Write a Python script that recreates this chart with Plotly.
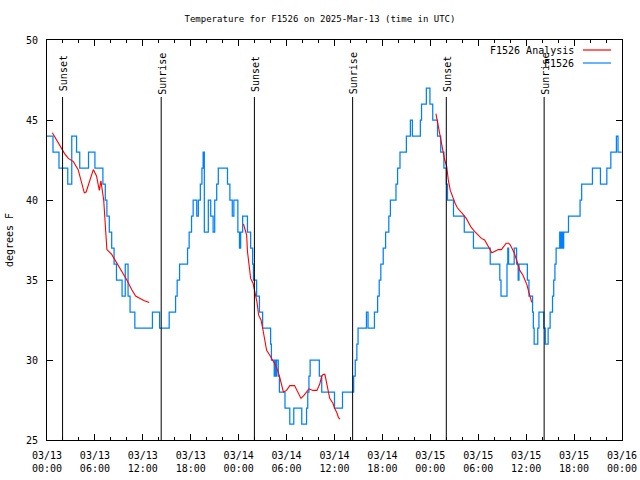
import plotly.graph_objects as go
import pandas as pd

START = pd.Timestamp("2025-03-13 00:00")

# Observations (F1526), hours since 03/13 00:00 UTC and temperature (F)
obs_hours = [0.0, 0.75, 1.5, 2.6, 3.1, 3.7, 4.1, 5.2, 6.0, 7.0, 7.3, 7.5, 7.8, 8.1, 8.4, 8.7,
             9.4, 9.8, 10.15, 10.4, 11.0, 13.2, 14.1, 15.3, 16.1, 16.3, 16.6, 17.6, 17.8, 18.1,
             18.3, 18.75, 18.95, 19.2, 19.4, 19.55, 19.7, 20.2, 20.5, 20.8, 21.0, 21.25, 21.45,
             22.6, 22.9, 23.2, 23.4, 23.9, 24.1, 24.25, 24.5, 25.1, 25.5, 25.75, 25.85, 26.25,
             26.6, 27.0, 28.0, 28.1, 28.45, 28.55, 28.7, 28.75, 28.96, 29.1, 29.8, 30.4, 30.9,
             31.9, 32.5, 32.65, 32.8, 32.95, 34.1, 34.4, 36.0, 37.0, 38.4, 38.6, 38.8, 38.95,
             39.3, 40.0, 40.2, 41.0, 41.4, 41.6, 41.8, 42.1, 42.4, 42.8, 43.0, 43.7, 43.9, 44.2,
             45.0, 45.5, 45.75, 46.75, 46.9, 47.5, 47.95, 48.3, 48.9, 49.3, 49.7, 50.0, 50.15,
             50.9, 52.25, 53.4, 55.5, 56.7, 56.85, 57.6, 57.7, 57.8, 58.5, 58.8, 59.0, 59.1,
             60.15, 60.35, 60.8, 60.9, 61.0, 61.45, 61.6, 62.2, 62.4, 62.75, 63.0, 63.3, 63.45,
             63.6, 63.75, 64.2, 64.3, 64.45, 64.6, 64.7, 65.3, 66.75, 66.95, 68.3, 69.3, 70.1,
             70.6, 71.3, 71.5, 71.95]
obs_temp = [44, 43, 42, 41, 44, 43, 42, 43, 42, 41, 40, 39, 38, 37, 36, 35,
            34, 36, 34, 33, 32, 33, 32, 33, 34, 35, 36, 37, 38, 39,
            40, 39, 40, 41, 42, 43, 38, 40, 39, 38, 40, 41, 42,
            41, 40, 39, 40, 38, 37, 38, 39, 38, 37, 36, 35, 34,
            33, 32, 31, 30, 29, 30, 29, 30, 29, 28, 27, 26, 27,
            26, 27, 28, 29, 30, 29, 28, 27, 28, 29, 30, 31, 32,
            32, 33, 32, 33, 34, 35, 36, 37, 38, 39, 40, 41, 42, 43,
            44, 45, 44, 45, 46, 47, 46, 45, 44, 43, 42, 41, 40,
            39, 38, 37, 36, 35, 34, 36, 37, 36, 37, 36, 35, 36,
            35, 34, 33, 32, 31, 32, 33, 32, 31, 32, 33, 34, 35,
            36, 37, 38, 37, 38, 37, 38, 39, 40, 41, 42, 41, 42,
            43, 44, 43, 43]

# Analysis (F1526 Analysis), three separate runs
ana1_hours = [0.67, 1.0, 1.6, 2.2, 2.67, 3.3, 3.9, 4.3, 4.67, 4.9, 5.3, 5.8, 6.2, 6.55, 6.75,
              6.9, 7.1, 7.26, 7.5, 8.1, 8.7, 9.35, 10.0, 10.6, 11.1, 11.65, 12.2, 12.8]
ana1_temp = [44.2, 43.9, 43.4, 42.9, 42.6, 42.4, 41.9, 41.1, 40.45, 40.5, 41.1, 41.9, 41.5, 40.6,
             41.2, 40.6, 40.0, 38.75, 36.9, 36.6, 36.1, 35.6, 35.0, 34.4, 34.0, 33.85, 33.7, 33.6]

ana2_hours = [24.6, 24.8, 25.0, 25.1, 25.3, 25.5, 25.8, 26.0, 26.3, 26.5, 26.8, 27.0, 27.15, 27.3,
              27.5, 27.9, 28.3, 28.7, 29.1, 29.4, 29.6, 30.0, 30.4, 31.0, 31.3, 31.5, 31.8, 32.2,
              32.6, 32.8, 33.3, 33.8, 34.15, 34.4, 34.6, 34.8, 35.0, 35.2, 35.4, 35.8, 36.0,
              36.3, 36.5, 36.7]
ana2_temp = [38.5, 38.2, 37.8, 36.8, 36.0, 35.1, 34.8, 34.3, 33.6, 32.8, 32.5, 32.0, 31.6, 31.0,
             30.6, 30.3, 29.9, 29.6, 29.0, 28.4, 28.0, 28.1, 28.4, 28.4, 28.1, 27.8, 27.6, 27.8,
             28.1, 28.2, 28.1, 28.1, 28.5, 29.0, 29.1, 29.1, 28.6, 28.1, 27.6, 27.3, 27.0,
             26.7, 26.4, 26.3]

ana3_hours = [48.7, 48.85, 49.0, 49.2, 49.4, 49.6, 49.8, 50.05, 50.25, 50.5, 50.7, 50.9, 51.1,
              51.4, 51.7, 52.1, 52.5, 52.9, 53.1, 53.6, 54.0, 54.4, 54.8, 55.1, 55.4, 55.7,
              56.1, 56.5, 56.9, 57.2, 57.5, 57.8, 58.0, 58.2, 58.5, 58.8, 59.0, 59.2, 59.6,
              59.9, 60.1, 60.3, 60.5, 60.7]
ana3_temp = [45.4, 45.0, 44.6, 44.2, 43.6, 43.1, 42.5, 42.1, 41.25, 40.6, 40.3, 40.1, 39.8,
             39.5, 39.3, 39.1, 38.85, 38.5, 38.3, 38.0, 37.8, 37.6, 37.5, 37.2, 36.9, 36.7,
             36.8, 36.9, 36.9, 37.1, 37.3, 37.3, 37.2, 37.0, 36.7, 36.25, 35.9, 35.6, 35.3,
             35.0, 34.7, 34.3, 34.0, 33.6]

# Sun events
sun_labels = ["Sunset", "Sunrise", "Sunset", "Sunrise", "Sunset", "Sunrise"]
sun_hours = [1.95, 14.3, 25.97, 38.27, 50.0, 62.25]

# X tick labels every 6 hours
tick_hours = [0, 6, 12, 18, 24, 30, 36, 42, 48, 54, 60, 66, 72]
tick_labels = ["03/13<br>00:00", "03/13<br>06:00", "03/13<br>12:00", "03/13<br>18:00",
               "03/14<br>00:00", "03/14<br>06:00", "03/14<br>12:00", "03/14<br>18:00",
               "03/15<br>00:00", "03/15<br>06:00", "03/15<br>12:00", "03/15<br>18:00",
               "03/16<br>00:00"]


def to_time(hours):
    return [START + pd.Timedelta(hours=h) for h in hours]


FONT = "DejaVu Sans Mono"
BLUE = "#0080ff"
RED = "#ff0000"

fig = go.Figure()

fig.add_trace(go.Scatter(x=to_time(obs_hours), y=obs_temp, mode="lines", line_shape="hv",
                         line=dict(color=BLUE, width=1.25), name="F1526", showlegend=False))
for hrs, tmp in [(ana1_hours, ana1_temp), (ana2_hours, ana2_temp), (ana3_hours, ana3_temp)]:
    fig.add_trace(go.Scatter(x=to_time(hrs), y=tmp, mode="lines",
                             line=dict(color=RED, width=1.1), name="F1526 Analysis",
                             showlegend=False))

shapes = []
annotations = []
for lab, h in zip(sun_labels, sun_hours):
    t = START + pd.Timedelta(hours=h)
    shapes.append(dict(type="line", xref="x", yref="paper", x0=t, x1=t, y0=0, y1=0.8575,
                       line=dict(color="black", width=1)))
    annotations.append(dict(x=t, y=0.916, xref="x", yref="paper", text=lab, showarrow=False,
                            textangle=-90, xanchor="center", yanchor="middle", xshift=1,
                            font=dict(family=FONT, size=10, color="black")))

# Legend drawn at top right (text left of sample line)
legend_items = [("F1526 Analysis", RED, 0.975), ("F1526", BLUE, 0.9425)]
for text, col, yy in legend_items:
    annotations.append(dict(x=0.920, y=yy, xref="paper", yref="paper", text=text,
                            showarrow=False, xanchor="right", yanchor="middle",
                            font=dict(family=FONT, size=10, color="black")))
    shapes.append(dict(type="line", xref="paper", yref="paper", x0=0.932, x1=0.981, y0=yy, y1=yy,
                       line=dict(color=col, width=1.2)))

fig.update_layout(
    width=640, height=480,
    margin=dict(l=47, r=18, t=40, b=40),
    paper_bgcolor="white", plot_bgcolor="white",
    title=dict(text="Temperature for F1526 on 2025-Mar-13 (time in UTC)", x=0.5, xanchor="center",
               y=1 - 19 / 480, yanchor="middle", font=dict(family=FONT, size=9, color="black")),
    font=dict(family=FONT, size=10, color="black"),
    shapes=shapes, annotations=annotations,
    showlegend=False,
)

fig.update_xaxes(
    type="date", range=[START, START + pd.Timedelta(hours=72)],
    tickmode="array", tickvals=to_time(tick_hours), ticktext=tick_labels,
    ticks="inside", ticklen=6, tickcolor="black", tickwidth=1,
    minor=dict(dtick=2 * 3600 * 1000, ticks="inside", ticklen=3, tickcolor="black", showgrid=False),
    showline=True, linecolor="black", linewidth=1, mirror="ticks",
    showgrid=False, zeroline=False, automargin=False, ticklabelstandoff=6,
    tickfont=dict(family=FONT, size=10, color="black"),
)
fig.update_yaxes(
    range=[25, 50], dtick=5, tick0=25,
    ticks="inside", ticklen=6, tickcolor="black",
    showline=True, linecolor="black", linewidth=1, mirror="ticks",
    showgrid=False, zeroline=False, automargin=False, ticklabelstandoff=6,
    title=dict(text="degrees F", font=dict(family=FONT, size=10, color="black"), standoff=10),
    tickfont=dict(family=FONT, size=10, color="black"),
)

fig.write_html("out.html", post_script="document.body.style.margin='0';",
               config={"displayModeBar": False})
